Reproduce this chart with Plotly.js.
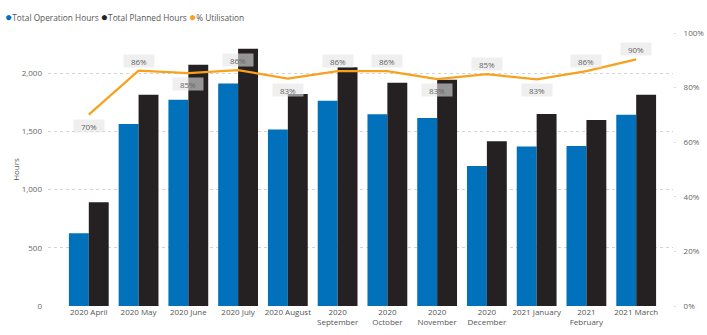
<!DOCTYPE html>
<html><head><meta charset="utf-8">
<script src="https://cdn.plot.ly/plotly-3.0.1.min.js"></script>
<style>html,body{margin:0;padding:0;background:#fff;}#chart{width:707px;height:335px;}</style>
</head><body><div id="chart"></div>
<script>
const months = ["2020 April","2020 May","2020 June","2020 July","2020 August","2020 September","2020 October","2020 November","2020 December","2021 January","2021 February","2021 March"];
const tickLabels = ["2020 April","2020 May","2020 June","2020 July","2020 August","2020<br>September","2020<br>October","2020<br>November","2020<br>December","2021 January","2021<br>February","2021 March"];
const operationHours = [625,1563,1771,1911,1517,1762,1648,1614,1202,1369,1375,1642];
const plannedHours = [892,1814,2072,2210,1822,2050,1917,1943,1416,1650,1598,1814];
const utilisation = [0.701,0.862,0.853,0.864,0.833,0.860,0.860,0.831,0.849,0.830,0.860,0.903];
const seriesNames = ["Total Operation Hours","Total Planned Hours","% Utilisation"];
const leftTicks = [0,500,1000,1500,2000];
const rightTicks = [0,0.2,0.4,0.6,0.8,1.0];

const cBlue = "#0071BA", cDark = "#252123", cOrange = "#F8A11D";
const FONT = "Open Sans, Noto Sans, sans-serif";

const traces = [
  {type:"bar", name:seriesNames[0], x:months, y:operationHours, marker:{color:cBlue}, hoverinfo:"x+y"},
  {type:"bar", name:seriesNames[1], x:months, y:plannedHours, marker:{color:cDark}, hoverinfo:"x+y"},
  {type:"scatter", mode:"lines", name:seriesNames[2], x:months, y:utilisation, yaxis:"y2",
   line:{color:cOrange, width:2.3}, hoverinfo:"x+y"}
];

const annotations = [];
utilisation.forEach((u,i)=>{
  const prev = i>0 ? utilisation[i-1] : Infinity;
  const next = i<utilisation.length-1 ? utilisation[i+1] : Infinity;
  const below = u < prev && u < next;
  annotations.push({
    x: months[i], y: u, xref:"x", yref:"y2",
    text: Math.round(u*100)+"%", showarrow:false,
    yshift: below ? -11 : 10,
    font:{family:FONT, size:8, color:"#666"},
    bgcolor:"rgba(228,228,228,0.6)", borderpad:1, width:28, height:10,
    xanchor:"center", yanchor:"middle"
  });
});
const dot = (c)=>`<span style="color:${c};font-size:12px">●</span>`;
annotations.push({
  xref:"paper", yref:"paper", x:-0.072, y:1.062, xanchor:"left", yanchor:"middle", showarrow:false,
  text: dot(cBlue)+seriesNames[0]+" "+dot(cDark)+seriesNames[1]+" "+dot(cOrange)+seriesNames[2],
  font:{family:FONT, size:8.3, color:"#555"}
});

const layout = {
  width:707, height:335,
  margin:{l:48, r:34, t:33, b:29},
  paper_bgcolor:"#fff", plot_bgcolor:"#fff",
  showlegend:false,
  barmode:"group", bargap:0.2, bargroupgap:0,
  font:{family:FONT, size:8, color:"#666"},
  xaxis:{type:"category", range:[-0.82, 11.74], tickvals:months, ticktext:tickLabels,
    showgrid:false, zeroline:false, showline:false, ticks:"", tickfont:{size:8, color:"#555"}, automargin:false},
  yaxis:{range:[0,2345], tickvals:leftTicks, tickformat:",d", showgrid:true, gridcolor:"#d4d4d4", griddash:"dot",
    gridwidth:1, zeroline:false, showline:false, ticks:"", ticklabelstandoff:5, automargin:false,
    tickfont:{size:8, color:"#666"},
    title:{text:"Hours", font:{size:8, color:"#555"}, standoff:0}},
  yaxis2:{overlaying:"y", side:"right", range:[0,1], tickvals:rightTicks, tickformat:".0%",
    showgrid:false, zeroline:false, showline:false, ticks:"outside", ticklen:2, tickcolor:"#ddd",
    ticklabelstandoff:6, automargin:false, tickfont:{size:8, color:"#666"}},
  annotations:annotations
};
Plotly.newPlot("chart", traces, layout, {displayModeBar:false, staticPlot:true});
</script></body></html>
